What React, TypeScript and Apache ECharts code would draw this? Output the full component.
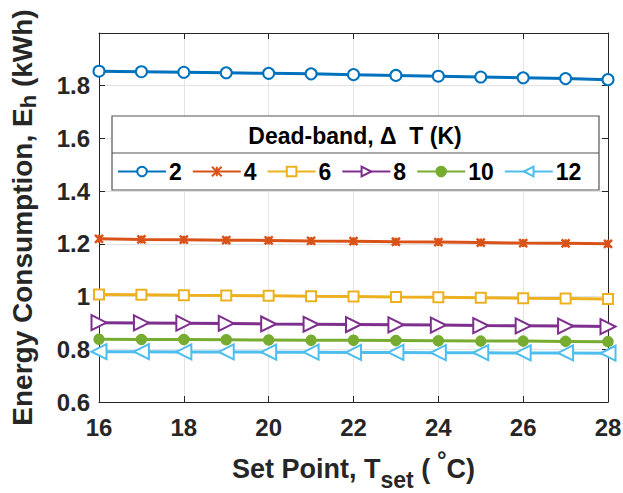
import React, { useEffect, useRef } from "react";
import * as echarts from "echarts";

const setPoints = [16, 17, 18, 19, 20, 21, 22, 23, 24, 25, 26, 27, 28];
const deadBands = ["2", "4", "6", "8", "10", "12"];
const e2 = [1.855, 1.853, 1.851, 1.849, 1.847, 1.845, 1.842, 1.839, 1.836, 1.833, 1.830, 1.827, 1.823];
const e4 = [1.219, 1.217, 1.216, 1.214, 1.213, 1.211, 1.210, 1.208, 1.207, 1.205, 1.203, 1.202, 1.200];
const e6 = [1.008, 1.007, 1.005, 1.004, 1.003, 1.001, 1.000, 0.998, 0.997, 0.996, 0.994, 0.993, 0.991];
const e8 = [0.901, 0.900, 0.899, 0.898, 0.896, 0.895, 0.894, 0.893, 0.892, 0.890, 0.889, 0.888, 0.886];
const e10 = [0.838, 0.837, 0.837, 0.836, 0.835, 0.834, 0.834, 0.833, 0.832, 0.831, 0.831, 0.830, 0.829];
const e12 = [0.791, 0.791, 0.790, 0.790, 0.789, 0.789, 0.788, 0.788, 0.787, 0.787, 0.786, 0.786, 0.785];
const yTicks = [0.6, 0.8, 1, 1.2, 1.4, 1.6, 1.8];

const colors = ["#0072BD", "#D95319", "#EDB120", "#7E2F8E", "#77AC30", "#4DBEEE"];
const FONT = "'Liberation Sans', Arial, Helvetica, sans-serif";
const AX = "#262626";

export default function App() {
  const ref = useRef<HTMLDivElement>(null);
  useEffect(() => {
    if (!ref.current) return;
    const chart = echarts.init(ref.current, null, { renderer: "svg" });
    const values = [e2, e4, e6, e8, e10, e12];
    const symbols: any[] = [
      { symbol: "emptyCircle", size: 11, rotate: 0 },
      { symbol: "path://M0,0L10,10M10,0L0,10M5,0L5,10", size: 8, rotate: 0 },
      { symbol: "emptyRect", size: 10, rotate: 0 },
      { symbol: "emptyTriangle", size: 15, rotate: -90 },
      { symbol: "circle", size: 9, rotate: 0 },
      { symbol: "emptyTriangle", size: 15, rotate: 90 },
    ];
    const series = deadBands.map((name, i) => ({
      name,
      type: "line",
      data: setPoints.map((x, j) => [x, values[i][j]]),
      symbol: symbols[i].symbol,
      symbolSize: symbols[i].size,
      symbolRotate: symbols[i].rotate,
      lineStyle: { color: colors[i], width: 3 },
      itemStyle: { color: colors[i], borderColor: colors[i], borderWidth: 2.5 },
      z: 3,
    }));
    const base = { fontWeight: "bold", color: AX, fontFamily: FONT };
    const xRich = {
      a: { ...base, fontSize: 27, lineHeight: 44, verticalAlign: "middle" },
      sub: { ...base, fontSize: 23, lineHeight: 18, verticalAlign: "bottom" },
      sup: { ...base, fontSize: 24, lineHeight: 34, verticalAlign: "top" },
    };
    const yRich = {
      a: { ...base, fontSize: 28, lineHeight: 34, verticalAlign: "middle" },
      sub: { ...base, fontSize: 22, lineHeight: 20, verticalAlign: "bottom" },
    };
    chart.setOption({
      animation: false,
      backgroundColor: "#fff",
      grid: { left: 99, top: 33, right: 15, bottom: 91, show: false, containLabel: false, outerBoundsMode: "none" },
      xAxis: [
        {
          type: "value",
          min: 16,
          max: 28,
          interval: 2,
          name: "{a|Set Point, T}{sub|set}{a| (}{sup| °}{a|C)}",
          nameLocation: "middle",
          nameGap: 45,
          nameTextStyle: { rich: xRich },
          axisLine: { show: true, lineStyle: { color: AX, width: 1 } },
          axisTick: { show: true, inside: true, length: 6, lineStyle: { color: AX } },
          axisLabel: { color: AX, fontSize: 24, fontWeight: "bold", fontFamily: FONT, margin: 13 },
          splitLine: { show: true, lineStyle: { color: "#e3e3e3", width: 1 } },
        },
        {
          type: "value",
          position: "top",
          min: 16,
          max: 28,
          interval: 2,
          axisLine: { show: true, lineStyle: { color: AX, width: 1 } },
          axisTick: { show: true, inside: true, length: 6, lineStyle: { color: AX } },
          axisLabel: { show: false },
          splitLine: { show: false },
        },
      ],
      yAxis: [
        {
          type: "value",
          min: 0.6,
          max: 2.0,
          interval: 0.2,
          name: "{a|Energy Consumption, E}{sub|h}{a| (kWh)}",
          nameLocation: "middle",
          nameGap: 60,
          nameRotate: 90,
          nameTextStyle: { rich: yRich },
          axisLine: { show: true, lineStyle: { color: AX, width: 1 } },
          axisTick: { show: true, inside: true, length: 6, lineStyle: { color: AX } },
          axisLabel: {
            color: AX,
            fontSize: 24,
            fontWeight: "bold",
            fontFamily: FONT,
            margin: 9,
            formatter: (v: number) => {
              const r = Math.round(v * 10) / 10;
              return yTicks.includes(r) ? String(r) : "";
            },
          },
          splitLine: { show: true, lineStyle: { color: "#e3e3e3", width: 1 } },
        },
        {
          type: "value",
          position: "right",
          min: 0.6,
          max: 2.0,
          interval: 0.2,
          axisLine: { show: true, lineStyle: { color: AX, width: 1 } },
          axisTick: { show: true, inside: true, length: 6, lineStyle: { color: AX } },
          axisLabel: { show: false },
          splitLine: { show: false },
        },
      ],
      legend: {
        data: deadBands,
        left: 112,
        top: 155,
        itemWidth: 48,
        itemHeight: 12,
        itemGap: 10,
        z: 10,
        textStyle: { fontSize: 23, fontWeight: "bold", color: "#000", fontFamily: FONT, padding: [0, 0, 0, -2] },
      },
      graphic: [
        {
          type: "rect",
          z: 5,
          shape: { x: 112, y: 116, width: 487, height: 74 },
          style: { fill: "#fff", stroke: "#555", lineWidth: 1.2 },
        },
        {
          type: "line",
          z: 6,
          shape: { x1: 112, y1: 153, x2: 599, y2: 153 },
          style: { stroke: "#555", lineWidth: 1.2 },
        },
        {
          type: "text",
          z: 11,
          x: 355,
          y: 136,
          style: {
            text: "Dead-band, Δ  T (K)",
            fontSize: 23,
            fontWeight: "bold",
            fontFamily: FONT,
            fill: "#000",
            align: "center",
            verticalAlign: "middle",
          },
        },
      ],
      series,
    });
    return () => chart.dispose();
  }, []);
  return <div ref={ref} style={{ width: 623, height: 493, position: "absolute", left: 0, top: 0 }} />;
}
